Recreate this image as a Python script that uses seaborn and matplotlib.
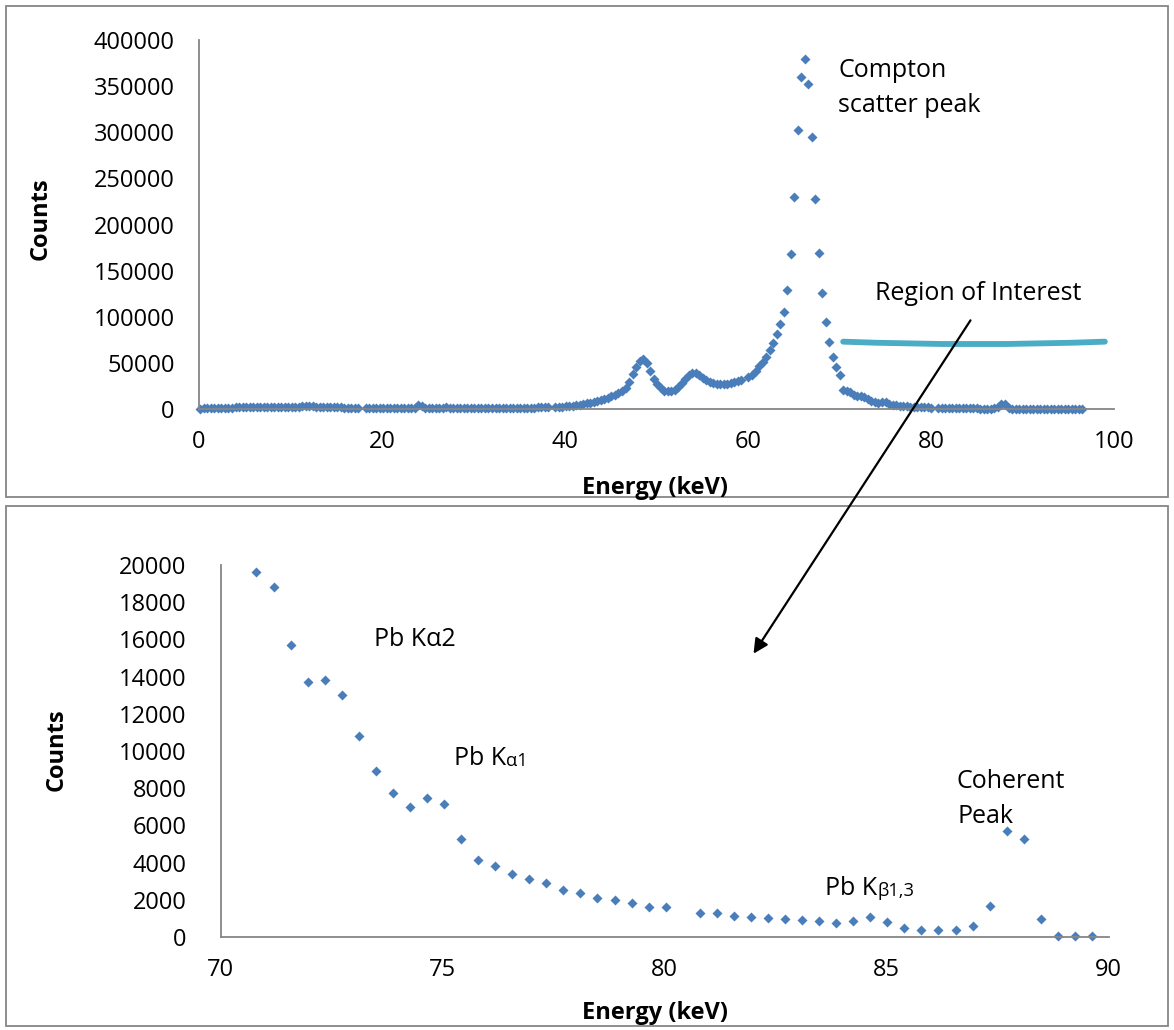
import numpy as np
import pandas as pd
import matplotlib
matplotlib.use("Agg")
import matplotlib.pyplot as plt
import seaborn as sns
from matplotlib.patches import Rectangle, FancyArrowPatch, PathPatch
from matplotlib.path import Path
from matplotlib.ticker import FuncFormatter

# ---------------- data ----------------
CHANNEL0_KEV = 0.15        # energy of channel 0
CHANNEL_WIDTH_KEV = 0.384  # energy width of one channel
nan = float("nan")

# channels 0-99 (0 - 38 keV): low background
counts_low = [200, 600, 900, 1100, 1200, 1300, 1400, 1500, 1500, 1600,
              1700, 1700, 1800, 1900, 1900, 2000, 2100, 2100, 2200, 2200,
              2300, 2400, 2400, 2500, 2500, 2600, 2600, 2700, 2700, 2800,
              2800, 2800, 2800, 2700, 2700, 2600, 2500, 2300, 2100, 1900,
              1700, 1500, 1300, 1200, 1100, 1000, nan,
              900, 900, 800, 800, 800, 800, 800, 800, 800, 900, 900, 900, 1000, 1100,
              1600, 4600, 3200, 1300, 1000, 900, 900, 1000, 1300, 1800, 1500, 1100, 1000,
              900, 900, 900, 900, 900, 900, 900, 1000, 1000, 1000, 1000, 1100, 1100,
              1100, 1200, 1200, 1300, 1300, 1400, 1400, 1500, 1600, 1700, 1800, 1900, 2000]

# channels 100-183 (38 - 70.5 keV): Pb fluorescence humps and Compton peak
counts_peaks = [nan,
                2300, 2500, 2700, 3000, 3300, 3700, 4300, 4800, 5300, 6000,
                6700, 7500, 8500, 9400, 10500, 11700, 13800, 15500, 16900, 19500,
                22500, 29500, 38000, 45800, 52500, 54000, 49500, 41500, 33000, 27000,
                22800, 19900, 19200, 19400, 21000, 24000, 28500, 33000, 36800, 38500,
                38600, 36500, 33500, 31000, 29300, 28000, 27200, 27000, 27000, 27400,
                28000, 29000, 30300, 31700,
                nan,
                34600, 37100, 41400, 46100, 51100, 56900, 63800, 71700, 81000, 91900,
                105500, 129000, 167900, 229800, 302000, 359600, 379500, 352400, 294700, 227400,
                169300, 125700, 94400, 73100, 56500, 45000, 37100, 20900]

# channels 184-233 (70.8 - 89.6 keV): region of interest
counts_roi = [19600, 18800, 15700, 13730, 13830, 13000, 10800, 8900, 7730, 7000,
              7490, 7150, 5250, 4160, 3800, 3390, 3140, 2890, 2540, 2350,
              2110, 1970, 1810, 1630, 1600, nan, 1270, 1310, 1150, 1090,
              1040, 970, 900, 840, 770, 880, 1060, 810, 470, 360,
              360, 360, 570, 1680, 5720, 5290, 980, 50, 30, 30]

# channels 234-251 (90 - 96.5 keV)
counts_tail = [30, 20, 30, 20, 20, 30, 20, 20, 20, 20, 20, 20, 20, 20, 20, 20, 20, 20]

x_ticks_top = [0, 20, 40, 60, 80, 100]
y_ticks_top = [0, 50000, 100000, 150000, 200000, 250000, 300000, 350000, 400000]
x_ticks_bottom = [70, 75, 80, 85, 90]
y_ticks_bottom = [0, 2000, 4000, 6000, 8000, 10000, 12000, 14000, 16000, 18000, 20000]

# ---------------- build tables ----------------
counts_all = counts_low + counts_peaks + counts_roi + counts_tail
spectrum = pd.DataFrame({"counts": counts_all})
spectrum["energy"] = CHANNEL0_KEV + CHANNEL_WIDTH_KEV * np.arange(len(spectrum))
roi_start = len(counts_low) + len(counts_peaks)
roi = spectrum.iloc[roi_start:roi_start + len(counts_roi)]

# ---------------- style ----------------
sns.set_theme(style="white")
plt.rcParams["font.family"] = ["Open Sans", "DejaVu Sans"]
plt.rcParams["text.color"] = "black"
FS = 17        # tick labels and axis titles
FS_ANN = 18    # annotation text
BLUE = "#4A7EBB"
GREY = "#868686"
W, H = 1174, 1030

def fx(px):
    return px / W

def fy(py):
    return 1 - py / H

fig = plt.figure(figsize=(W / 100, H / 100), dpi=100)
fig.patch.set_facecolor("white")

ax1 = fig.add_axes([fx(199), fy(409), (1114 - 199) / W, (409 - 40) / H])
ax2 = fig.add_axes([fx(220.7), fy(937), (1108.7 - 220.7) / W, (937 - 565) / H])

sns.scatterplot(data=spectrum, x="energy", y="counts", ax=ax1, marker="D",
                s=26, color=BLUE, linewidth=0, legend=False, clip_on=False)
sns.scatterplot(data=roi, x="energy", y="counts", ax=ax2, marker="D",
                s=26, color=BLUE, linewidth=0, legend=False, clip_on=False)

fmt = FuncFormatter(lambda v, p: f"{int(round(v))}")
for ax, xt, yt, ypad in ((ax1, x_ticks_top, y_ticks_top, 13),
                         (ax2, x_ticks_bottom, y_ticks_bottom, 20)):
    ax.set_xlim(xt[0], xt[-1])
    ax.set_ylim(yt[0], yt[-1])
    ax.set_xticks(xt)
    ax.set_yticks(yt)
    ax.xaxis.set_major_formatter(fmt)
    ax.yaxis.set_major_formatter(fmt)
    ax.set_xlabel("")
    ax.set_ylabel("")
    for side in ("top", "right"):
        ax.spines[side].set_visible(False)
    for side in ("left", "bottom"):
        ax.spines[side].set_color(GREY)
        ax.spines[side].set_linewidth(1.3)
    ax.tick_params(axis="both", direction="out", length=4.5, width=1.2,
                   color=GREY, labelsize=FS, labelcolor="black")
    ax.tick_params(axis="y", pad=ypad)
    ax.tick_params(axis="x", pad=10.5)
    ax.set_facecolor("white")
    ax.grid(False)

# axis titles
fig.text(fx(41), fy(219), "Counts", rotation=90, ha="center", va="center",
         fontsize=FS, fontweight="bold", color="black")
fig.text(fx(655), fy(488), "Energy (keV)", ha="center", va="center",
         fontsize=FS, fontweight="bold", color="black")
fig.text(fx(57), fy(750), "Counts", rotation=90, ha="center", va="center",
         fontsize=FS, fontweight="bold", color="black")
fig.text(fx(655), fy(1013), "Energy (keV)", ha="center", va="center",
         fontsize=FS, fontweight="bold", color="black")

# panel frames
for top, bot in ((6, 497), (506, 1026)):
    fig.add_artist(Rectangle((fx(6), fy(bot)), (1168 - 6) / W, (bot - top) / H,
                             transform=fig.transFigure, fill=False,
                             edgecolor=GREY, linewidth=1.3))

# annotations, top panel
fig.text(fx(838), fy(77), "Compton", fontsize=FS_ANN, va="baseline")
fig.text(fx(838), fy(112), "scatter peak", fontsize=FS_ANN, va="baseline")
fig.text(fx(875), fy(300), "Region of Interest", fontsize=FS_ANN, va="baseline")

# region of interest bracket (slightly curved cyan stroke)
roi_path = Path([(70.4, 73000), (84.7, 67600), (99.0, 73000)],
                [Path.MOVETO, Path.CURVE3, Path.CURVE3])
ax1.add_patch(PathPatch(roi_path, facecolor="none", edgecolor="#4BACC6",
                        linewidth=4.2, capstyle="round", clip_on=False))

# annotations, bottom panel
fig.text(fx(374), fy(646), "Pb K\u03b12", fontsize=FS_ANN, va="baseline")
t1 = fig.text(fx(454), fy(765), "Pb K", fontsize=FS_ANN, va="baseline")
ax2.annotate("\u03b11", xy=(1, 0), xycoords=t1, fontsize=FS_ANN * 0.73, va="bottom",
             xytext=(0, 1), textcoords="offset points", color="black")
t2 = fig.text(fx(825), fy(895), "Pb K", fontsize=FS_ANN, va="baseline")
ax2.annotate("\u03b21,3", xy=(1, 0), xycoords=t2, fontsize=FS_ANN * 0.73, va="bottom",
             xytext=(0, 1), textcoords="offset points", color="black")
fig.text(fx(957), fy(788), "Coherent", fontsize=FS_ANN, va="baseline")
fig.text(fx(957), fy(823), "Peak", fontsize=FS_ANN, va="baseline")

# arrow from ROI to the zoomed panel
fig.add_artist(FancyArrowPatch((fx(972), fy(318)), (fx(752), fy(656)),
                               transform=fig.transFigure, arrowstyle="-|>",
                               mutation_scale=22, color="black", linewidth=1.6))

fig.savefig("out.png", dpi=100, facecolor="white")
